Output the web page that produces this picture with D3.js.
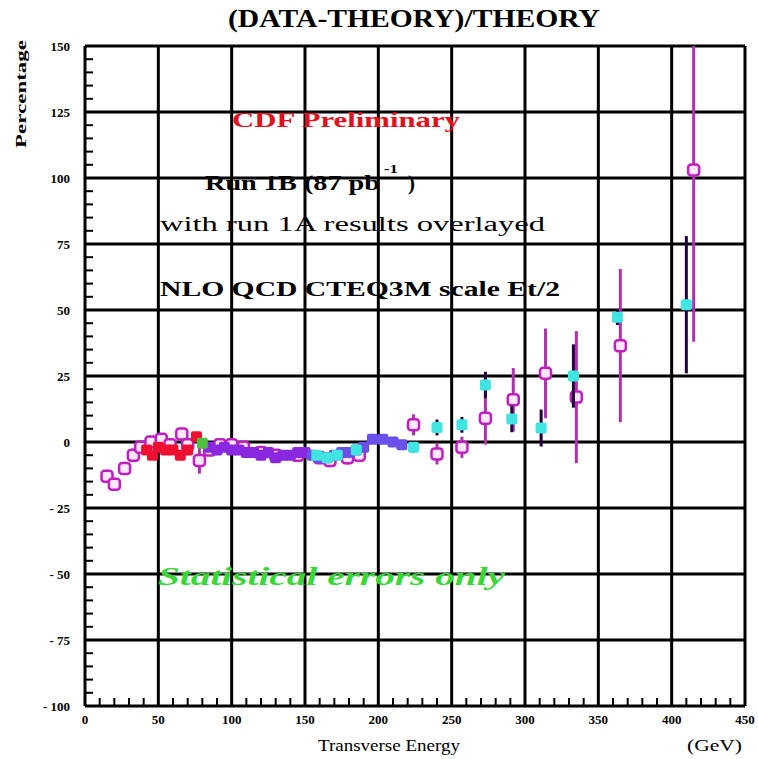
<!DOCTYPE html>
<html><head><meta charset="utf-8">
<script src="https://cdn.jsdelivr.net/npm/d3@7"></script>
<style>body{margin:0;background:#fff}svg{display:block}</style>
</head><body>
<script>
// ---- data ----
const xTicks = [0,50,100,150,200,250,300,350,400,450];
const yTicks = [-100,-75,-50,-25,0,25,50,75,100,125,150];

// Run 1A (open magenta markers, magenta error bars)
const run1A_x   = [15,20,27,33,38,45,52,58,66,70,78,85,92,100,108,120,130,145,160,167,179,187,224,240,257,273,292,314,335,365,415];
const run1A_y   = [-13,-16,-10,-5,-2,0,1,-1,3,-1,-7,-3,-1,-1,-2,-4,-5,-5,-6,-7,-6,-5,6.5,-4.5,-2,9,16,26,17,36.5,103];
const run1A_err = [2.5,2.5,2.5,2.5,2,2,2,2,2,2,5,2,2,2,2,2,2,2,2,2.5,2.5,2.5,4,4,4,10,12,17,25,29,65];

// Run 1B filled markers, by colour group
const red_x = [42,46,50,55,60,65,70,76];
const red_y = [-3,-5,-2,-3,-3,-5,-3,2];
const green_x = [80];
const green_y = [-0.5];
const purple_x = [85,90,95,100,105,110,115,120,125,130,135,140,145,150];
const purple_y = [-2,-3,-2,-3,-3,-4,-4,-5,-4,-6,-5,-5,-4,-4];
const blue_x = [155,160,165,170,175,180,185,190,196,203,210,216];
const blue_y = [-5,-6,-6,-5,-4,-4,-3,-2,1,1,0,-1];
const cyan_x   = [158,165,172,185,224,240,257,273,291,311,333,363,410];
const cyan_y   = [-5,-6,-5,-3,-2,5.5,6.5,21.6,8.7,5.3,25,47.3,52];
const cyan_err = [1,1,1,1,2,3,3,5,5,7,12,3,26];

// ---- layout ----
const W = 758, H = 759;
const svg = d3.select("body").append("svg").attr("width", W).attr("height", H);
const x = d3.scaleLinear().domain([0,450]).range([85,745]);
const y = d3.scaleLinear().domain([-100,150]).range([706,46]);
const serif = "'Liberation Serif','DejaVu Serif',serif";

svg.append("defs").append("clipPath").attr("id","clip")
  .append("rect").attr("x",x(0)).attr("y",y(150)).attr("width",x(450)-x(0)).attr("height",y(-100)-y(150));

// grid
const g = svg.append("g");
g.selectAll(".vg").data(xTicks).join("line")
  .attr("x1",d=>x(d)).attr("x2",d=>x(d)).attr("y1",y(-100)).attr("y2",y(150))
  .attr("stroke","#000").attr("stroke-width",3);
g.selectAll(".hg").data(yTicks).join("line")
  .attr("y1",d=>y(d)).attr("y2",d=>y(d)).attr("x1",x(0)).attr("x2",x(450))
  .attr("stroke","#000").attr("stroke-width",3);

// minor ticks
const yMinor = d3.range(-100,151,5).filter(v=>v%25!==0);
g.selectAll(".ym").data(yMinor).join("line")
  .attr("x1",x(0)).attr("x2",x(0)+8).attr("y1",d=>y(d)).attr("y2",d=>y(d))
  .attr("stroke","#000").attr("stroke-width",2);
const xMinor = d3.range(0,451,10).filter(v=>v%50!==0);
g.selectAll(".xm").data(xMinor).join("line")
  .attr("x1",d=>x(d)).attr("x2",d=>x(d)).attr("y1",y(-100)).attr("y2",y(-100)-8)
  .attr("stroke","#000").attr("stroke-width",2);

// tick labels
svg.selectAll(".yl").data(yTicks).join("text")
  .attr("x",70).attr("y",d=>y(d)+5).attr("text-anchor","end")
  .attr("font-family",serif).attr("font-weight","bold").attr("font-size",13)
  .text(d=>d<0? "- "+(-d) : d);
svg.selectAll(".xl").data(xTicks).join("text")
  .attr("x",d=>x(d)).attr("y",724).attr("text-anchor","middle")
  .attr("font-family",serif).attr("font-weight","bold").attr("font-size",13)
  .text(d=>d);

// data layer
const dl = svg.append("g").attr("clip-path","url(#clip)");
const A = run1A_x.map((v,i)=>({x:v,y:run1A_y[i],e:run1A_err[i]}));
dl.selectAll(".ae").data(A).join("line")
  .attr("x1",d=>x(d.x)).attr("x2",d=>x(d.x)).attr("y1",d=>y(d.y+d.e)).attr("y2",d=>y(d.y-d.e))
  .attr("stroke","#b030b0").attr("stroke-width",3);
dl.selectAll(".am").data(A).join("rect")
  .attr("x",d=>x(d.x)-5.5).attr("y",d=>y(d.y)-5.5).attr("width",11).attr("height",11).attr("rx",3)
  .attr("fill","#ffe8ff").attr("stroke","#c020c0").attr("stroke-width",2.5);

function filled(xs, ys, col){
  dl.append("g").selectAll("rect").data(xs.map((v,i)=>({x:v,y:ys[i]}))).join("rect")
    .attr("x",d=>x(d.x)-5.5).attr("y",d=>y(d.y)-5.5).attr("width",11).attr("height",11).attr("rx",2)
    .attr("fill",col);
}
filled(red_x, red_y, "#ee1030");
filled(purple_x, purple_y, "#8a28e0");
filled(blue_x, blue_y, "#6a50e8");
const C = cyan_x.map((v,i)=>({x:v,y:cyan_y[i],e:cyan_err[i]}));
dl.selectAll(".ce").data(C).join("line")
  .attr("x1",d=>x(d.x)).attr("x2",d=>x(d.x)).attr("y1",d=>y(d.y+d.e)).attr("y2",d=>y(d.y-d.e))
  .attr("stroke","#200040").attr("stroke-width",3);
filled(cyan_x, cyan_y, "#40e4e0");
filled(green_x, green_y, "#50c040");

// texts
function txt(s, xx, yy, size, opts={}){
  const t = svg.append("text").attr("x",xx).attr("y",yy).attr("font-family",serif)
    .attr("font-size",size).attr("font-weight",opts.weight||"bold").attr("fill",opts.fill||"#000")
    .text(s);
  if(opts.len){ t.attr("textLength",opts.len).attr("lengthAdjust","spacingAndGlyphs"); }
  if(opts.italic) t.attr("font-style","italic");
  return t;
}
txt("(DATA-THEORY)/THEORY", 228, 27, 25, {len:372});
svg.append("text").attr("transform","translate(26,148) rotate(-90)")
  .attr("font-family",serif).attr("font-weight","bold").attr("font-size",15)
  .attr("textLength",108).attr("lengthAdjust","spacingAndGlyphs").text("Percentage");
txt("CDF Preliminary", 232, 127, 22, {fill:"#e01020", len:228});
txt("Run 1B (87 pb", 205, 190, 21, {len:175});
txt("-1", 384, 173, 13, {len:14});
txt(")", 408, 190, 21);
txt("with run 1A results overlayed", 160, 231, 20, {weight:"normal", len:385});
txt("NLO QCD CTEQ3M scale Et/2", 160, 296, 21, {len:400});
txt("Statistical errors only", 158, 585, 25, {fill:"#38d838", italic:true, len:347});
txt("Transverse Energy", 318, 751, 16, {weight:"normal", len:142});
txt("(GeV)", 687, 751, 16, {weight:"normal", len:55});
</script>
</body></html>
